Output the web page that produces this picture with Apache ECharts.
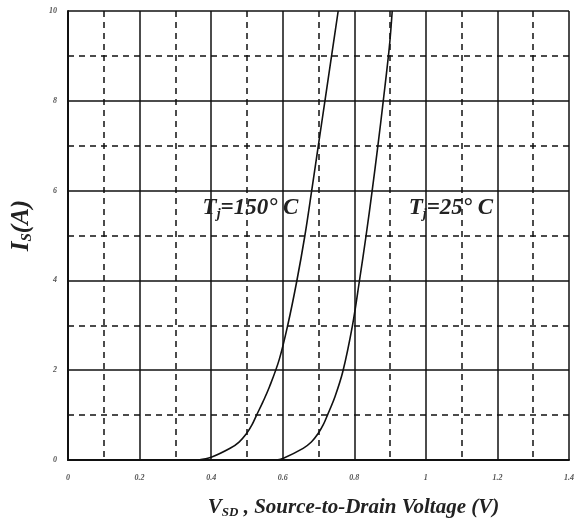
<!DOCTYPE html>
<html>
<head>
<meta charset="utf-8">
<script src="https://cdn.jsdelivr.net/npm/echarts@6/dist/echarts.min.js"></script>
<style>
html, body { margin: 0; padding: 0; background: #fff; }
#main { width: 574px; height: 524px; }
</style>
</head>
<body>
<div id="main"></div>
<script>
// Tj = 150 C curve
var v150 = [0.364, 0.40, 0.453, 0.478, 0.499, 0.514, 0.527, 0.545, 0.563, 0.590, 0.614, 0.639, 0.662, 0.681, 0.6995, 0.718, 0.7365, 0.755];
var i150 = [0, 0.06, 0.26, 0.40, 0.59, 0.78, 1.0, 1.3, 1.63, 2.23, 3.0, 3.97, 5, 6, 7, 8, 9, 10];
// Tj = 25 C curve
var v25 = [0.583, 0.602, 0.657, 0.680, 0.699, 0.713, 0.725, 0.746, 0.768, 0.795, 0.814, 0.833, 0.850, 0.866, 0.881, 0.898, 0.906];
var i25 = [0, 0.04, 0.26, 0.40, 0.59, 0.78, 1.0, 1.41, 1.97, 3.0, 3.97, 5, 6, 7, 8, 9.2, 10];

var labelText = ['150° C', '25° C'];
var labelAt = [[0.51, 5.6], [1.07, 5.6]];

function pairs(xs, ys) {
	var out = [];
	for ( var i = 0; i < xs.length; i++) {
		out.push([xs[i], ys[i]]);
	}
	return out;
}

var serif = '"Liberation Serif", "DejaVu Serif", serif';

var tickText = {
	fontFamily : serif,
	fontStyle : 'italic',
	fontWeight : 'bold',
	fontSize : 8,
	color : '#555'
};

function nameRich(big, small) {
	return {
		v : { fontFamily : serif, fontStyle : 'italic', fontWeight : 'bold', fontSize : big, color : '#222' },
		sub : { fontFamily : serif, fontStyle : 'italic', fontWeight : 'bold', fontSize : small, color : '#222', verticalAlign : 'bottom', padding : [Math.round(big * 0.45), 0, 0, 0] }
	};
}

var tempRich = {
	t : { fontFamily : serif, fontStyle : 'italic', fontWeight : 'bold', fontSize : 23, color : '#222' },
	j : { fontFamily : serif, fontStyle : 'italic', fontWeight : 'bold', fontSize : 14, color : '#222', verticalAlign : 'bottom', padding : [11, 0, 0, 0] }
};

function tempMark(k) {
	return {
		symbol : 'circle',
		symbolSize : 1,
		itemStyle : { color : 'rgba(0,0,0,0)' },
		label : {
			show : true,
			position : 'inside',
			formatter : '{t|T}{j|j}{t|=' + labelText[k] + '}',
			rich : tempRich
		},
		data : [ { coord : labelAt[k] } ]
	};
}

var myChart = echarts.init(document.getElementById('main'));
var option = {
	backgroundColor : '#ffffff',
	animation : false,
	grid : {
		left : 68,
		right : 5,
		top : 11,
		bottom : 64,
		outerBoundsMode : 'none'
	},
	xAxis : {
		type : 'value',
		min : 0,
		max : 1.4,
		interval : 0.2,
		name : '{v|V}{sub|SD}{v| , Source-to-Drain Voltage (V)}',
		nameLocation : 'middle',
		nameGap : 37,
		nameTextStyle : { rich : nameRich(21, 13), padding : [0, 0, 0, 70] },
		axisLine : { lineStyle : { color : '#111', width : 2 } },
		axisTick : { show : false },
		axisLabel : Object.assign({ margin : 14 }, tickText),
		splitLine : { show : true, lineStyle : { color : '#111', width : 1.5 } },
		minorTick : { show : false, splitNumber : 2 },
		minorSplitLine : { show : true, lineStyle : { color : '#111', width : 1.5, type : [6, 5] } }
	},
	yAxis : {
		type : 'value',
		min : 0,
		max : 10,
		interval : 2,
		name : '{v|I}{sub|S}{v|(A)}',
		nameLocation : 'middle',
		nameGap : 33,
		nameTextStyle : { rich : nameRich(25, 15), padding : [0, 0, 0, 20] },
		axisLine : { show : true, lineStyle : { color : '#111', width : 2 } },
		axisTick : { show : false },
		axisLabel : Object.assign({ margin : 11 }, tickText),
		splitLine : { show : true, lineStyle : { color : '#111', width : 1.5 } },
		minorTick : { show : false, splitNumber : 2 },
		minorSplitLine : { show : true, lineStyle : { color : '#111', width : 1.5, type : [6, 5] } }
	},
	series : [ {
		name : 'Tj=150',
		type : 'line',
		smooth : 0.35,
		symbol : 'none',
		lineStyle : { color : '#111', width : 1.6 },
		data : pairs(v150, i150),
		markPoint : tempMark(0)
	}, {
		name : 'Tj=25',
		type : 'line',
		smooth : 0.35,
		symbol : 'none',
		lineStyle : { color : '#111', width : 1.6 },
		data : pairs(v25, i25),
		markPoint : tempMark(1)
	} ]
};
myChart.setOption(option);
</script>
</body>
</html>
